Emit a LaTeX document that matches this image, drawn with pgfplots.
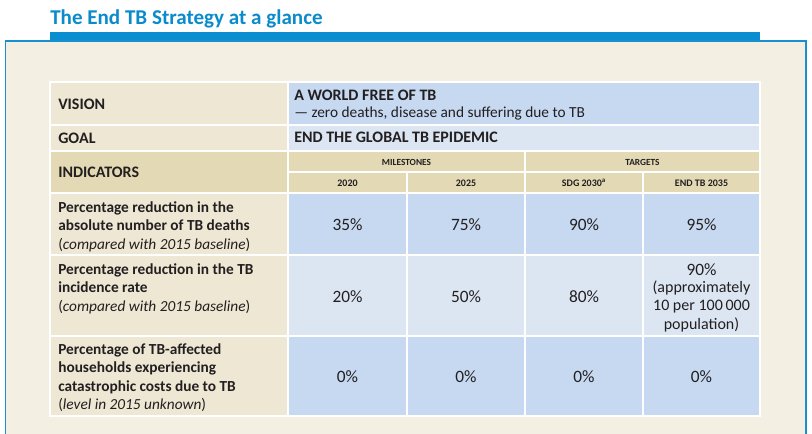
\documentclass[border=0pt]{standalone}
\usepackage{pgfplots}
\pgfplotsset{compat=1.18}
\usepackage{pgfplotstable}
\usepackage{fontspec}
\setmainfont{Carlito}
\definecolor{bgcream}{HTML}{F3EFE2}
\definecolor{boxblue}{HTML}{1A8FD0}
\definecolor{titleblue}{HTML}{0A8BCB}
\definecolor{barblue}{HTML}{0B8ED0}
\definecolor{lblcream}{HTML}{EDE7D3}
\definecolor{hdrtan}{HTML}{E3DAB5}
\definecolor{cellblue}{HTML}{C6D9F1}
\definecolor{cellltblue}{HTML}{DCE6F2}
\definecolor{txt}{HTML}{231F20}

\pgfplotstableread{
x y label
347.5 224.5 {35\%}
466 224.5 {75\%}
584 224.5 {90\%}
701.5 224.5 {95\%}
347.5 297 {20\%}
466 297 {50\%}
584 297 {80\%}
701.5 269.5 {90\%}
347.5 376.5 {0\%}
466 376.5 {0\%}
584 376.5 {0\%}
701.5 376.5 {0\%}
}\valtable

\begin{document}
\begin{tikzpicture}
\begin{axis}[
  scale only axis, width=609pt, height=325.5pt,
  xmin=0, xmax=812, ymin=0, ymax=434, y dir=reverse,
  hide axis, clip=true,
]
% background
\fill[white] (0,0) rectangle (812,434);
% title
\node[anchor=base west, font=\bfseries\fontsize{15.8}{18}\selectfont, text=titleblue, inner sep=0pt] at (50,25) {The End TB Strategy at a glance};
\fill[barblue] (50,32) rectangle (760,40.5);
% outer box
\filldraw[fill=bgcream, draw=boxblue, line width=1.2pt] (5.5,41) rectangle (806,440);
% cells
\fill[lblcream] (50,82) rectangle (288,125);
\fill[cellblue] (288,82) rectangle (760,125);
\fill[lblcream] (50,125) rectangle (288,151);
\fill[cellltblue] (288,125) rectangle (760,151);
\fill[hdrtan] (50,151) rectangle (760,193);
\fill[lblcream] (50,193) rectangle (288,416);
\fill[cellblue] (288,193) rectangle (760,255);
\fill[cellltblue] (288,255) rectangle (760,336);
\fill[cellblue] (288,336) rectangle (760,416);
% white grid lines
\begin{scope}[white, line width=1.3pt]
\draw (50,82) rectangle (760,416);
\draw (50,125) -- (760,125);
\draw (50,151) -- (760,151);
\draw (288,172) -- (760,172);
\draw (50,193) -- (760,193);
\draw (50,255) -- (760,255);
\draw (50,336) -- (760,336);
\draw (288,82) -- (288,416);
\draw (525,151) -- (525,416);
\draw (407,172) -- (407,416);
\draw (643,172) -- (643,416);
\end{scope}
% row header texts
\begin{scope}[every node/.style={text=txt, inner sep=0pt}]
\node[anchor=west, font=\bfseries\fontsize{12}{14}\selectfont] at (58,104) {VISION};
\node[anchor=west, font=\bfseries\fontsize{12}{14}\selectfont] at (58,138) {GOAL};
\node[anchor=west, font=\bfseries\fontsize{12}{14}\selectfont] at (58,172.5) {INDICATORS};
\node[anchor=base west, font=\bfseries\fontsize{12}{14}\selectfont] at (294,101) {A WORLD FREE OF TB};
\node[anchor=base west, font=\fontsize{11.5}{14}\selectfont] at (294,118) {— zero deaths, disease and suffering due to TB};
\node[anchor=base west, font=\bfseries\fontsize{12}{14}\selectfont] at (294,143) {END THE GLOBAL TB EPIDEMIC};
\node[font=\bfseries\fontsize{7}{8}\selectfont] at (406.5,162) {MILESTONES};
\node[font=\bfseries\fontsize{7}{8}\selectfont] at (642.5,162) {TARGETS};
\node[font=\bfseries\fontsize{7.5}{8}\selectfont] at (347.5,183) {2020};
\node[font=\bfseries\fontsize{7.5}{8}\selectfont] at (466,183) {2025};
\node[font=\bfseries\fontsize{7.5}{8}\selectfont] at (584,183) {SDG 2030\textsuperscript{a}};
\node[font=\bfseries\fontsize{7.5}{8}\selectfont] at (701.5,183) {END TB 2035};
% indicator labels (base anchor = last line)
\node[anchor=base west, align=left, font=\fontsize{11.5}{13.75}\selectfont] at (58,249.2) {\textbf{Percentage reduction in the}\\\textbf{absolute number of TB deaths}\\(\textit{compared with 2015 baseline})};
\node[anchor=base west, align=left, font=\fontsize{11.5}{13.75}\selectfont] at (58,311.2) {\textbf{Percentage reduction in the TB}\\\textbf{incidence rate}\\(\textit{compared with 2015 baseline})};
\node[anchor=base west, align=left, font=\fontsize{11.5}{13.75}\selectfont] at (58,409.5) {\textbf{Percentage of TB-affected}\\\textbf{households experiencing}\\\textbf{catastrophic costs due to TB}\\(\textit{level in 2015 unknown})};
\node[anchor=base, align=center, font=\fontsize{12}{13.75}\selectfont] at (701.5,329.2) {(approximately\\10 per 100\,000\\population)};
\end{scope}
% values
\addplot[only marks, mark=none, point meta=explicit symbolic,
  nodes near coords={\pgfplotspointmeta},
  nodes near coords style={anchor=center, text=txt, inner sep=0pt, font=\fontsize{13}{15}\selectfont}]
  table[x=x, y=y, meta=label] {\valtable};
\end{axis}
\end{tikzpicture}
\end{document}
